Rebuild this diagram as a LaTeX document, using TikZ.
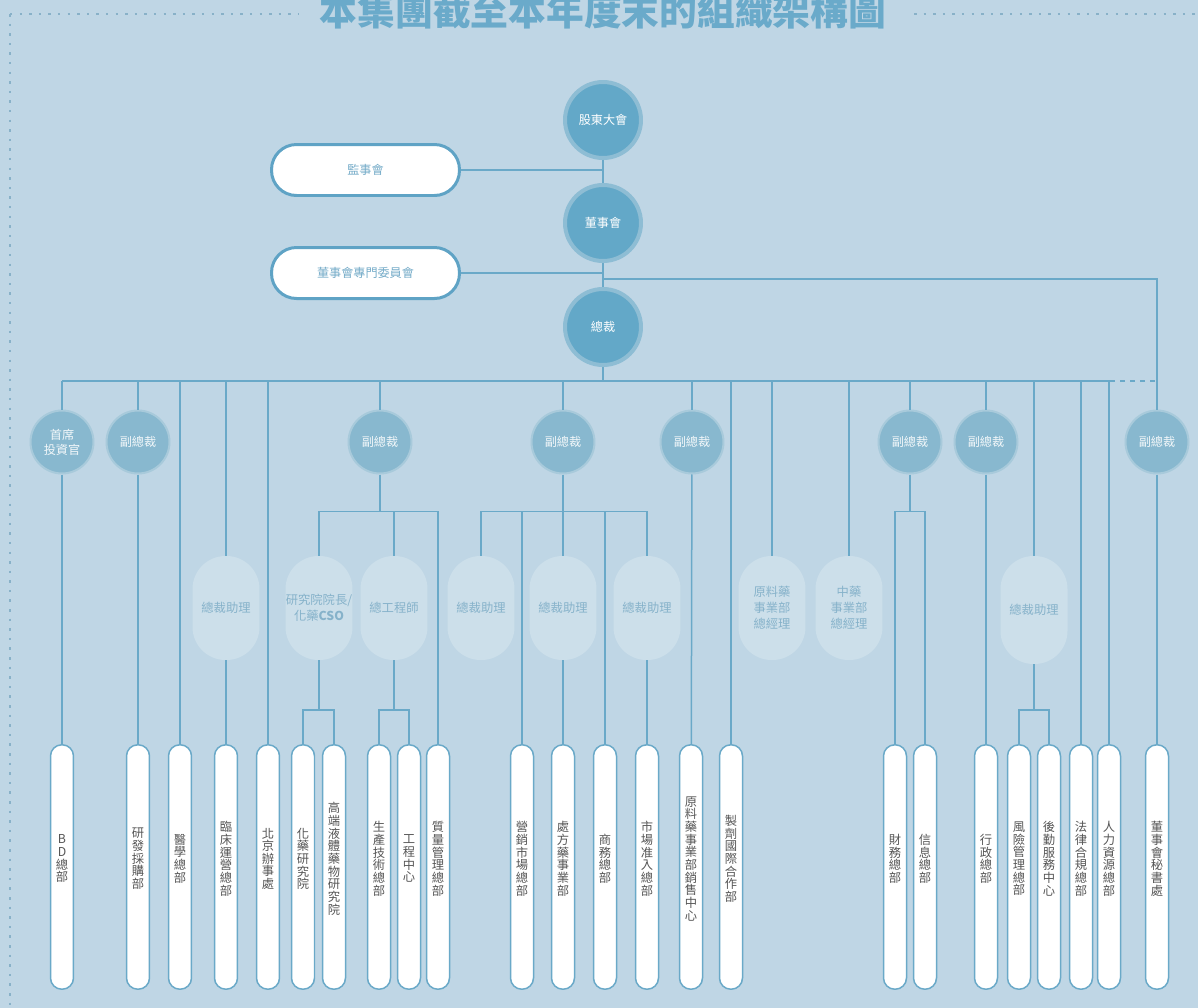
\documentclass[tikz,border=0pt]{standalone}
\usepackage{fontspec}
\newfontfamily\cjk{Noto Sans CJK TC}
\usetikzlibrary{positioning}
\lineskiplimit=-10pt

\definecolor{bgblue}{HTML}{BFD6E5}
\definecolor{wireblue}{HTML}{6AA9C8}
\definecolor{topfill}{HTML}{63A8C8}
\definecolor{topring}{HTML}{8EBDD4}
\definecolor{vpfill}{HTML}{88B8CF}
\definecolor{vpring}{HTML}{A8CADB}
\definecolor{aidefill}{HTML}{CCDFEA}
\definecolor{aidetext}{HTML}{86B2CA}
\definecolor{pilledge}{HTML}{5FA3C5}
\definecolor{pilltext}{HTML}{74ABC8}
\definecolor{depttext}{HTML}{555555}
\definecolor{titleblue}{HTML}{6AAACA}
\definecolor{dotblue}{HTML}{88B1C8}

\tikzset{
  topnode/.style={circle, fill=topfill, draw=topring, line width=0.08cm, minimum size=1.52cm,
    inner sep=0pt, text=white, font=\cjk\fontsize{6.9}{8}\selectfont},
  vpnode/.style={circle, fill=vpfill, draw=vpring, line width=0.04cm, minimum size=1.26cm,
    inner sep=0pt, align=center, text=white!90!vpfill, font=\cjk\fontsize{6.9}{8.6}\selectfont},
  pillnode/.style={rectangle, rounded corners=0.5cm, fill=white, draw=pilledge, line width=0.06cm,
    minimum width=3.76cm, minimum height=1.02cm, text=pilltext, font=\cjk\fontsize{6.9}{8}\selectfont},
  aidenode/.style={rectangle, rounded corners=0.66cm, fill=aidefill, minimum width=1.34cm,
    minimum height=2.08cm, inner sep=0pt, align=center, text=aidetext,
    font=\cjk\fontsize{7}{9}\selectfont},
  deptbox/.style={rectangle, rounded corners=0.225cm, fill=white, draw=wireblue, line width=0.03cm,
    minimum width=0.46cm, minimum height=4.89cm, inner sep=0pt, align=center, text=depttext,
    text depth=0.35cm, font=\cjk\fontsize{7}{7.2}\selectfont},
  wire/.style={draw=wireblue, line width=0.03cm},
  dotline/.style={draw=dotblue, line width=0.055cm, dash pattern=on 0.05cm off 0.142cm},
}

\begin{document}
\begin{tikzpicture}[x=0.02cm, y=-0.02cm]
  \fill[bgblue] (0,0) rectangle (1198,1008);
  \useasboundingbox (0,0) rectangle (1198,1008);
  % 標題與點線框
  \node[font=\cjk\bfseries\fontsize{21.5}{24}\selectfont, text=titleblue, anchor=base] (title) at (603,25) {本集團截至本年度末的組織架構圖};
  \draw[dotline] (10,14) -- (298,14);
  \draw[dotline] (914,14) -- (1198,14);
  \draw[dotline] (10,14) -- (10,1008);

  % 頂層
  \node[topnode] (gdh) at (603,120) {股東大會};
  \node[topnode] (dsh) at (603,223) {董事會};
  \node[topnode] (zcai) at (603,327) {總裁};
  \node[pillnode] (jsh) at (365.5,170) {監事會};
  \node[pillnode] (zmh) at (365.5,273) {董事會專門委員會};

  % 副總裁一層
  \node[vpnode] (cio) at (62,442) {首席\\投資官};
  \node[vpnode] (vpa) at (138,442) {副總裁};
  \node[vpnode] (vpb) at (380,442) {副總裁};
  \node[vpnode] (vpc) at (563,442) {副總裁};
  \node[vpnode] (vpd) at (692,442) {副總裁};
  \node[vpnode] (vpe) at (910,442) {副總裁};
  \node[vpnode] (vpf) at (986,442) {副總裁};
  \node[vpnode] (vpg) at (1157,442) {副總裁};

  % 助理一層
  \node[aidenode] (asa) at (226,608) {總裁助理};
  \node[aidenode] (cso) at (319,608) {研究院院長/\\化藥\textbf{CSO}};
  \node[aidenode] (zgs) at (394,608) {總工程師};
  \node[aidenode] (asb) at (481,608) {總裁助理};
  \node[aidenode] (asc) at (563,608) {總裁助理};
  \node[aidenode] (asd) at (647,608) {總裁助理};
  \node[aidenode] (ylz) at (772,608) {原料藥\\事業部\\總經理};
  \node[aidenode] (zyz) at (849,608) {中藥\\事業部\\總經理};
  \node[aidenode, minimum height=2.16cm] (ase) at (1034,610) {總裁助理};

  % 部門
  \node[deptbox] (bdb) at (62,867) {B\\D\\總\\部};
  \node[deptbox] (yfb) at (138,867) {研\\發\\採\\購\\部};
  \node[deptbox] (yxb) at (180,867) {醫\\學\\總\\部};
  \node[deptbox] (lcb) at (226,867) {臨\\床\\運\\營\\總\\部};
  \node[deptbox] (bjb) at (268,867) {北\\京\\辦\\事\\處};
  \node[deptbox] (hyb) at (303,867) {化\\藥\\研\\究\\院};
  \node[deptbox] (gdb) at (334,867) {高\\端\\液\\體\\藥\\物\\研\\究\\院};
  \node[deptbox] (scb) at (379,867) {生\\產\\技\\術\\總\\部};
  \node[deptbox] (gcb) at (409,867) {工\\程\\中\\心};
  \node[deptbox] (zlb) at (438,867) {質\\量\\管\\理\\總\\部};
  \node[deptbox] (yxsc) at (522,867) {營\\銷\\市\\場\\總\\部};
  \node[deptbox] (cfb) at (563,867) {處\\方\\藥\\事\\業\\部};
  \node[deptbox] (swb) at (605,867) {商\\務\\總\\部};
  \node[deptbox] (zrb) at (647,867) {市\\場\\准\\入\\總\\部};
  \node[deptbox] (ylxs) at (691,867) {原\\料\\藥\\事\\業\\部\\銷\\售\\中\\心};
  \node[deptbox] (zjb) at (731,867) {製\\劑\\國\\際\\合\\作\\部};
  \node[deptbox] (cwb) at (895,867) {財\\務\\總\\部};
  \node[deptbox] (xxb) at (925,867) {信\\息\\總\\部};
  \node[deptbox] (xzb) at (986,867) {行\\政\\總\\部};
  \node[deptbox] (fxb) at (1019,867) {風\\險\\管\\理\\總\\部};
  \node[deptbox] (hqb) at (1049,867) {後\\勤\\服\\務\\中\\心};
  \node[deptbox] (flb) at (1081,867) {法\\律\\合\\規\\總\\部};
  \node[deptbox] (rlb) at (1109,867) {人\\力\\資\\源\\總\\部};
  \node[deptbox] (msb) at (1157,867) {董\\事\\會\\秘\\書\\處};

  % 連線
  \coordinate (fork) at (603,279);
  \coordinate (busl) at (62,381);
  \coordinate (busr) at (1110,381);
  \coordinate (hup) at (0,511.7);
  \coordinate (hlow) at (0,710);
  \draw[wire] (gdh) -- (dsh);
  \draw[wire] (dsh) -- (zcai);
  \draw[wire] (jsh) -- (jsh -| gdh);
  \draw[wire] (zmh) -- (zmh -| dsh);
  \draw[wire] (fork) -| (vpg);
  \draw[wire] (zcai) -- (zcai |- busl);
  \draw[wire] (busl) -- (busr);
  \draw[wire, dash pattern=on 0.1cm off 0.1cm] (busr) -- (busr -| vpg);
  \foreach \n in {cio,vpa,vpb,vpc,vpd,vpe,vpf,asa,ylz,zyz,ase,yxb,bjb,zjb,flb,rlb}
    \draw[wire] (\n |- busl) -- (\n);
  \draw[wire] (cio) -- (bdb);
  \draw[wire] (vpa) -- (yfb);
  \draw[wire] (asa) -- (lcb);
  \draw[wire] (vpd) -- (ylxs);
  \draw[wire] (vpf) -- (xzb);
  \draw[wire] (vpg) -- (msb);
  % 分支
  \draw[wire] (vpb) -- (vpb |- hup);
  \draw[wire] (cso) |- (zlb |- hup) -- (zlb);
  \draw[wire] (zgs |- hup) -- (zgs);
  \draw[wire] (vpc) -- (asc);
  \draw[wire] (asb) |- (asd |- hup) -- (asd);
  \draw[wire] (yxsc |- hup) -- (yxsc);
  \draw[wire] (swb |- hup) -- (swb);
  \draw[wire] (asc) -- (cfb);
  \draw[wire] (asd) -- (zrb);
  \draw[wire] (vpe) -- (vpe |- hup);
  \draw[wire] (cwb) |- (xxb |- hup) -- (xxb);
  \draw[wire] (cso) -- (cso |- hlow);
  \draw[wire] (hyb) |- (gdb |- hlow) -- (gdb);
  \draw[wire] (zgs) -- (zgs |- hlow);
  \draw[wire] (scb) |- (gcb |- hlow) -- (gcb);
  \draw[wire] (ase) -- (ase |- hlow);
  \draw[wire] (fxb) |- (hqb |- hlow) -- (hqb);
\end{tikzpicture}
\end{document}
